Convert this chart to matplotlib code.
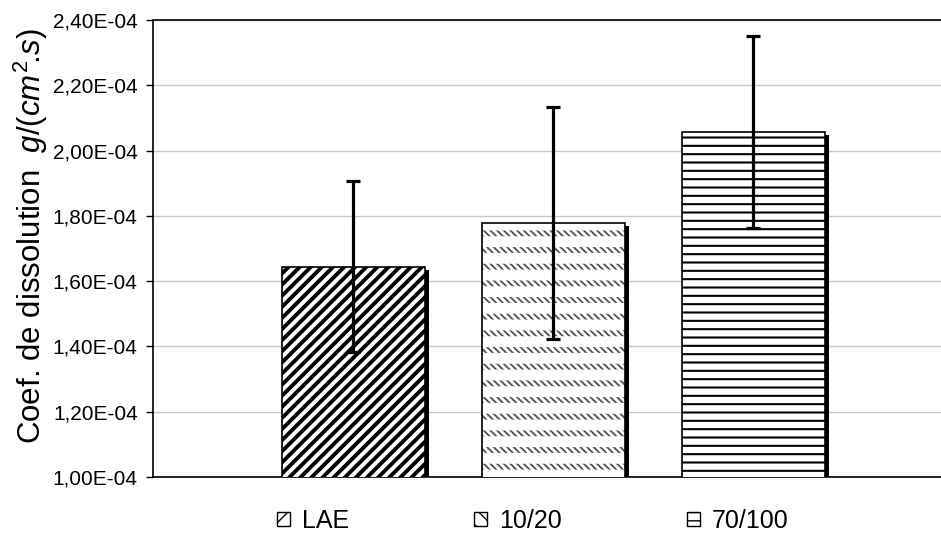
import matplotlib
matplotlib.use('Agg')
import matplotlib as mpl
import matplotlib.pyplot as plt
from matplotlib.ticker import FuncFormatter, MultipleLocator
from matplotlib.patches import Patch
import numpy as np

plt.rcParams['font.family'] = ['Liberation Sans', 'DejaVu Sans']
plt.rcParams['mathtext.fontset'] = 'custom'
plt.rcParams['mathtext.it'] = 'Liberation Sans:italic'
plt.rcParams['mathtext.rm'] = 'Liberation Sans'

# data
categories = ['LAE', '10/20', '70/100']
coef = [1.644e-4, 1.778e-4, 2.057e-4]
coef_err = [0.262e-4, 0.354e-4, 0.294e-4]
hatches = ['///', '\\' * 5, '--']
hatch_cols = ['black', '#505050', 'black']
hatch_lws = [2.8, 1.3, 1.5]


def hatched_bar(ax, xi, v, w, h, col, lw, **kw):
    # hatch linewidth per bar (rc at creation + setter when present)
    with mpl.rc_context({'hatch.linewidth': lw}):
        b = ax.bar(xi, v, width=w, edgecolor=col, hatch=h, linewidth=0, **kw)
    for p in b:
        if hasattr(p, 'set_hatch_linewidth'):
            p.set_hatch_linewidth(lw)
    return b


fig = plt.figure(figsize=(9.41, 5.40), dpi=100)
ax = fig.add_axes([0.1626, 0.1167, 0.8374, 0.8463])

x = np.arange(1, len(categories) + 1)
w = 0.715

# drop shadow behind each bar
ax.bar(x + 0.02, np.array(coef) - 0.009e-4, width=w, color='black', zorder=2)

for i, (xi, v) in enumerate(zip(x, coef)):
    hatched_bar(ax, xi, v, w, hatches[i], hatch_cols[i], hatch_lws[i],
                facecolor='white', zorder=3)
    if categories[i] == '10/20':
        # white bands cut the fine diagonals into short dashes
        hatched_bar(ax, xi, v, w, '-', 'white', 7.8, facecolor='none', zorder=3.5)
    ax.bar(xi, v, width=w, facecolor='none', edgecolor='black',
           linewidth=1.2, zorder=4)

ax.errorbar(x, coef, yerr=coef_err, fmt='none', ecolor='black',
            elinewidth=2.3, capsize=5, capthick=2.3, zorder=5)

ax.set_xlim(0, 3.94)
ax.set_ylim(1.0e-4, 2.4e-4)
ax.yaxis.set_major_locator(MultipleLocator(0.2e-4))
ax.yaxis.set_major_formatter(FuncFormatter(lambda v, p: f"{v:.2E}".replace('.', ',')))
ax.set_xticks([])
ax.tick_params(axis='y', labelsize=15, direction='out', length=5, width=1, pad=6)
ax.grid(axis='y', color='#c8c8c8', linewidth=1)
ax.set_axisbelow(True)
ax.spines['right'].set_visible(False)
for s in ['left', 'bottom', 'top']:
    ax.spines[s].set_linewidth(1.2)

ax.set_ylabel(r"Coef. de dissolution  $g/(cm^{2}\!.\!s)$", fontsize=22.5)
ax.yaxis.set_label_coords(-0.131, 0.527)

handles = []
for c, h in zip(categories, ['//', '\\\\', '--']):
    handles.append(Patch(facecolor='white', edgecolor='black', hatch=h, label=c, linewidth=1))
fig.legend(handles=handles, loc='center', bbox_to_anchor=(0.5665, 0.035), ncol=3,
           frameon=False, fontsize=18, handlelength=0.5, handleheight=0.5,
           handletextpad=0.5, columnspacing=5.0)

fig.savefig('out.png', dpi=100)
